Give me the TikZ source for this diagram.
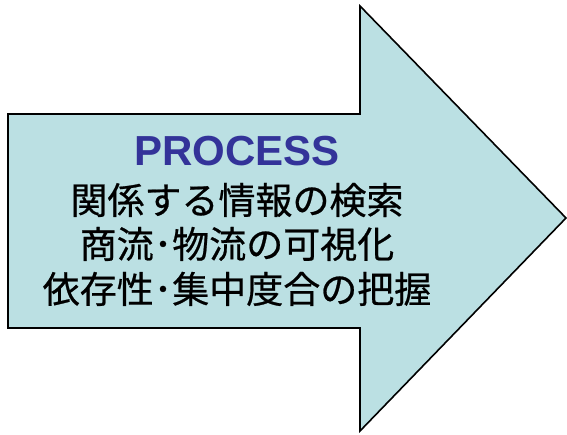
\documentclass[tikz,border=0pt]{standalone}
\usepackage{fontspec}
\setmainfont{Liberation Sans}
\newfontfamily\cjk[FakeBold=0.6]{Noto Sans CJK JP}
\definecolor{arrowfill}{RGB}{187,224,227}
\definecolor{procblue}{RGB}{51,51,153}
\begin{document}
\begin{tikzpicture}[x=1pt,y=1pt,
  arrowshape/.style={draw=black,line width=1.6pt,fill=arrowfill,line join=miter},
  titletext/.style={inner sep=0pt,anchor=base,text=procblue,font=\fontsize{42}{42}\selectfont\bfseries},
  bodytext/.style={inner sep=0pt,anchor=base,text=black,font=\fontsize{37}{37}\selectfont\cjk}]
\useasboundingbox (0,0) rectangle (567,435);
\draw[arrowshape] (8,321) -- (360,321) -- (360,429) -- (566,217) -- (360,4) -- (360,107) -- (8,107) -- cycle;
\node[titletext] (title) at (237,269) {PROCESS};
\node[bodytext] (l1) at (237,221) {関係する情報の検索};
\node[bodytext] (l2) at (237,177) {商流･物流の可視化};
\node[bodytext] (l3) at (237,132) {依存性･集中度合の把握};
\end{tikzpicture}
\end{document}
